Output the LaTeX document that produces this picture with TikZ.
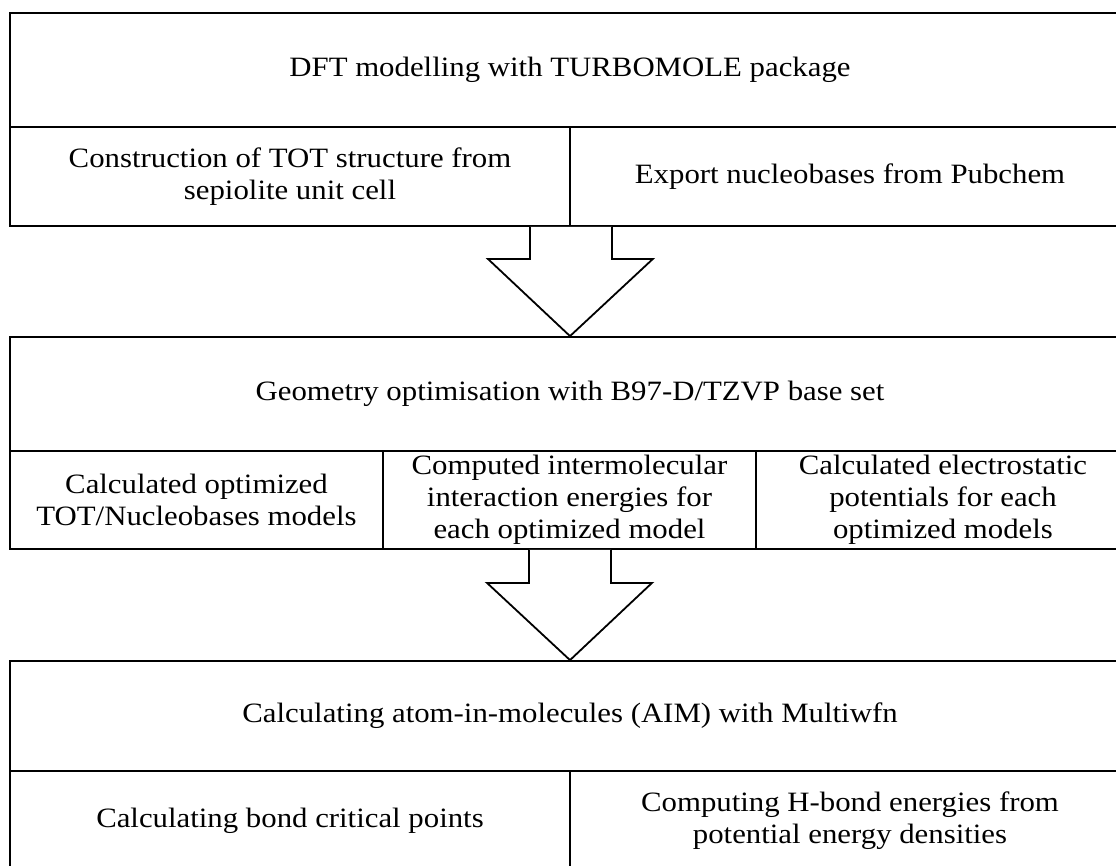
\documentclass[tikz,border=0pt]{standalone}
\usepackage{fontspec}
\setmainfont{Liberation Serif}[FakeStretch=1.1]
\usetikzlibrary{calc}
\tikzset{
  cell/.style={draw, line width=1.8pt, inner sep=0pt, align=center,
    font=\fontsize{28}{32}\selectfont},
  blockarrow/.style={draw, line width=1.8pt, fill=white, line join=miter}
}
\begin{document}
\begin{tikzpicture}[x=1pt,y=-1pt]
\useasboundingbox (0,0) rectangle (1116,865);
\clip (0,0) rectangle (1116,865);
% box 1
\node[cell, minimum width=1120pt, minimum height=114pt] (h1) at (570,70) {DFT modelling with TURBOMOLE package};
\node[cell, minimum width=560pt, minimum height=99pt] (c11) at (290,176.5) {Construction of TOT structure from\\sepiolite unit cell};
\node[cell, minimum width=560pt, minimum height=99pt] (c12) at (850,176.5) {Export nucleobases from Pubchem};
% box 2
\node[cell, minimum width=1120pt, minimum height=114pt] (h2) at (570,394) {Geometry optimisation with B97-D/TZVP base set};
\node[cell, minimum width=373pt, minimum height=98pt] (c21) at (196.5,500) {Calculated optimized\\TOT/Nucleobases models};
\node[cell, minimum width=373pt, minimum height=98pt] (c22) at (569.5,500) {Computed intermolecular\\interaction energies for\\each optimized model};
\node[cell, minimum width=374pt, minimum height=98pt] (c23) at (943,500) {Calculated electrostatic\\potentials for each\\optimized models};
% box 3
\node[cell, minimum width=1120pt, minimum height=110pt] (h3) at (570,716) {Calculating atom-in-molecules (AIM) with Multiwfn};
\node[cell, minimum width=560pt, minimum height=99pt] (c31) at (290,820.5) {Calculating bond critical points};
\node[cell, minimum width=560pt, minimum height=99pt] (c32) at (850,820.5) {Computing H-bond energies from\\potential energy densities};
% arrow 1
\coordinate (a1) at (c11.south east);
\draw[blockarrow] ($(a1)+(-41,0)$) -- ($(a1)+(-41,32)$) -- ($(a1)+(-83,32)$) -- (h2.north)
  -- ($(a1)+(82,32)$) -- ($(a1)+(41,32)$) -- ($(a1)+(41,0)$);
% arrow 2
\coordinate (a2) at (c22.south);
\draw[blockarrow] ($(a2)+(-40.5,0)$) -- ($(a2)+(-40.5,33)$) -- ($(a2)+(-82.5,33)$) -- (h3.north)
  -- ($(a2)+(82.5,33)$) -- ($(a2)+(41.5,33)$) -- ($(a2)+(41.5,0)$);
\end{tikzpicture}
\end{document}
